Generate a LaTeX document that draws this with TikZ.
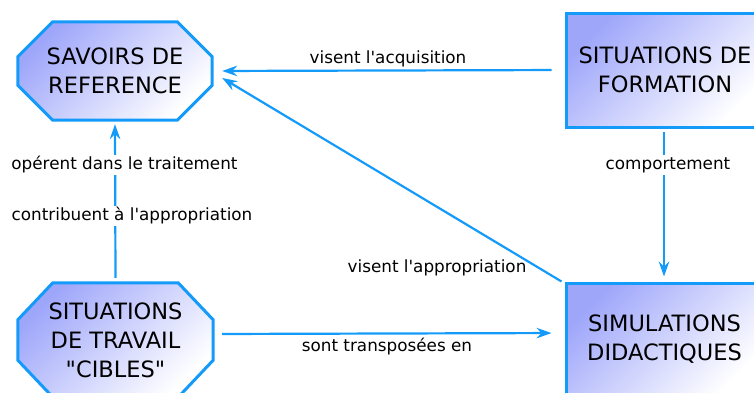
\documentclass[tikz,border=0pt]{standalone}
\usepackage{fontspec}
\setmainfont{DejaVu Sans}[Ligatures=TeXOff]
\usetikzlibrary{arrows.meta,calc}
\pgfdeclarelayer{background}
\pgfsetlayers{background,main}
\definecolor{edgeblue}{RGB}{20,155,250}
\definecolor{fillblue}{RGB}{158,166,250}
\tikzset{
  shadefill/.style={draw=edgeblue, line width=3pt, top color=fillblue, bottom color=white,
    shading angle=45},
  txt/.style={align=center, inner sep=0pt, font=\fontsize{22.5}{29}\selectfont},
  octo/.style={txt, rectangle, draw=none},
  rect/.style={txt, shadefill, rectangle},
  arr/.style={draw=edgeblue, line width=2.2pt, -{Stealth[length=15pt,width=10.5pt,inset=5pt]}},
  lbl/.style={font=\fontsize{16.8}{20}\selectfont, inner sep=1pt},
  wlbl/.style={lbl, fill=white, inner sep=2pt}
}
\newcommand{\octpath}[3]{% node, xchamfer, ychamfer
  \path[shadefill] ([xshift=#2]#1.north west) -- ([xshift=-#2]#1.north east)
    -- ([yshift=-#3]#1.north east) -- ([yshift=#3]#1.south east)
    -- ([xshift=-#2]#1.south east) -- ([xshift=#2]#1.south west)
    -- ([yshift=#3]#1.south west) -- ([yshift=-#3]#1.north west) -- cycle;}
\begin{document}
\begin{tikzpicture}[x=1pt,y=-1pt]
\useasboundingbox (0,0) rectangle (754,392);
\clip (0,0) rectangle (754,392);
\node[octo, minimum width=194pt, minimum height=98pt] (sr) at (115,71) {SAVOIRS DE\\REFERENCE};
\node[octo, minimum width=195pt, minimum height=114pt] (sc) at (115.5,340) {SITUATIONS\\DE TRAVAIL\\"CIBLES"};
\begin{pgfonlayer}{background}
\octpath{sr}{35pt}{35pt}
\octpath{sc}{35pt}{37pt}
\end{pgfonlayer}
\node[rect, minimum width=198pt, minimum height=114pt] (fo) at (665,70) {SITUATIONS DE\\FORMATION};
\node[rect, minimum width=197pt, minimum height=112pt] (sd) at (664.5,339) {SIMULATIONS\\DIDACTIQUES};

\draw[arr, shorten <=13pt, shorten >=10pt] (fo.west) -- (sr.east);
\draw[arr] ([xshift=-3pt]sd.north west) -- ([xshift=10pt,yshift=-7pt]sr.east);
\draw[arr, shorten <=5pt, shorten >=4pt] (sc.north) -- (sr.south);
\draw[arr, shorten <=9pt, shorten >=13pt] ([yshift=6pt]sc.east) -- ([yshift=6pt]sd.west);
\draw[arr, shorten <=3pt, shorten >=5pt] ([xshift=-1pt]fo.south) -- ([xshift=-0.5pt]sd.north);

\node[lbl] (l1) at (388,59) {visent l'acquisition};
\node[lbl] (l2) at (437,268) {visent l'appropriation};
\node[wlbl] (l3) at (124.5,165) {opérent dans le traitement};
\node[wlbl] (l4) at (132,216) {contribuent à l'appropriation};
\node[lbl] (l5) at (387,347) {sont transposées en};
\node[wlbl] (l6) at (668,165) {comportement};
\end{tikzpicture}
\end{document}
